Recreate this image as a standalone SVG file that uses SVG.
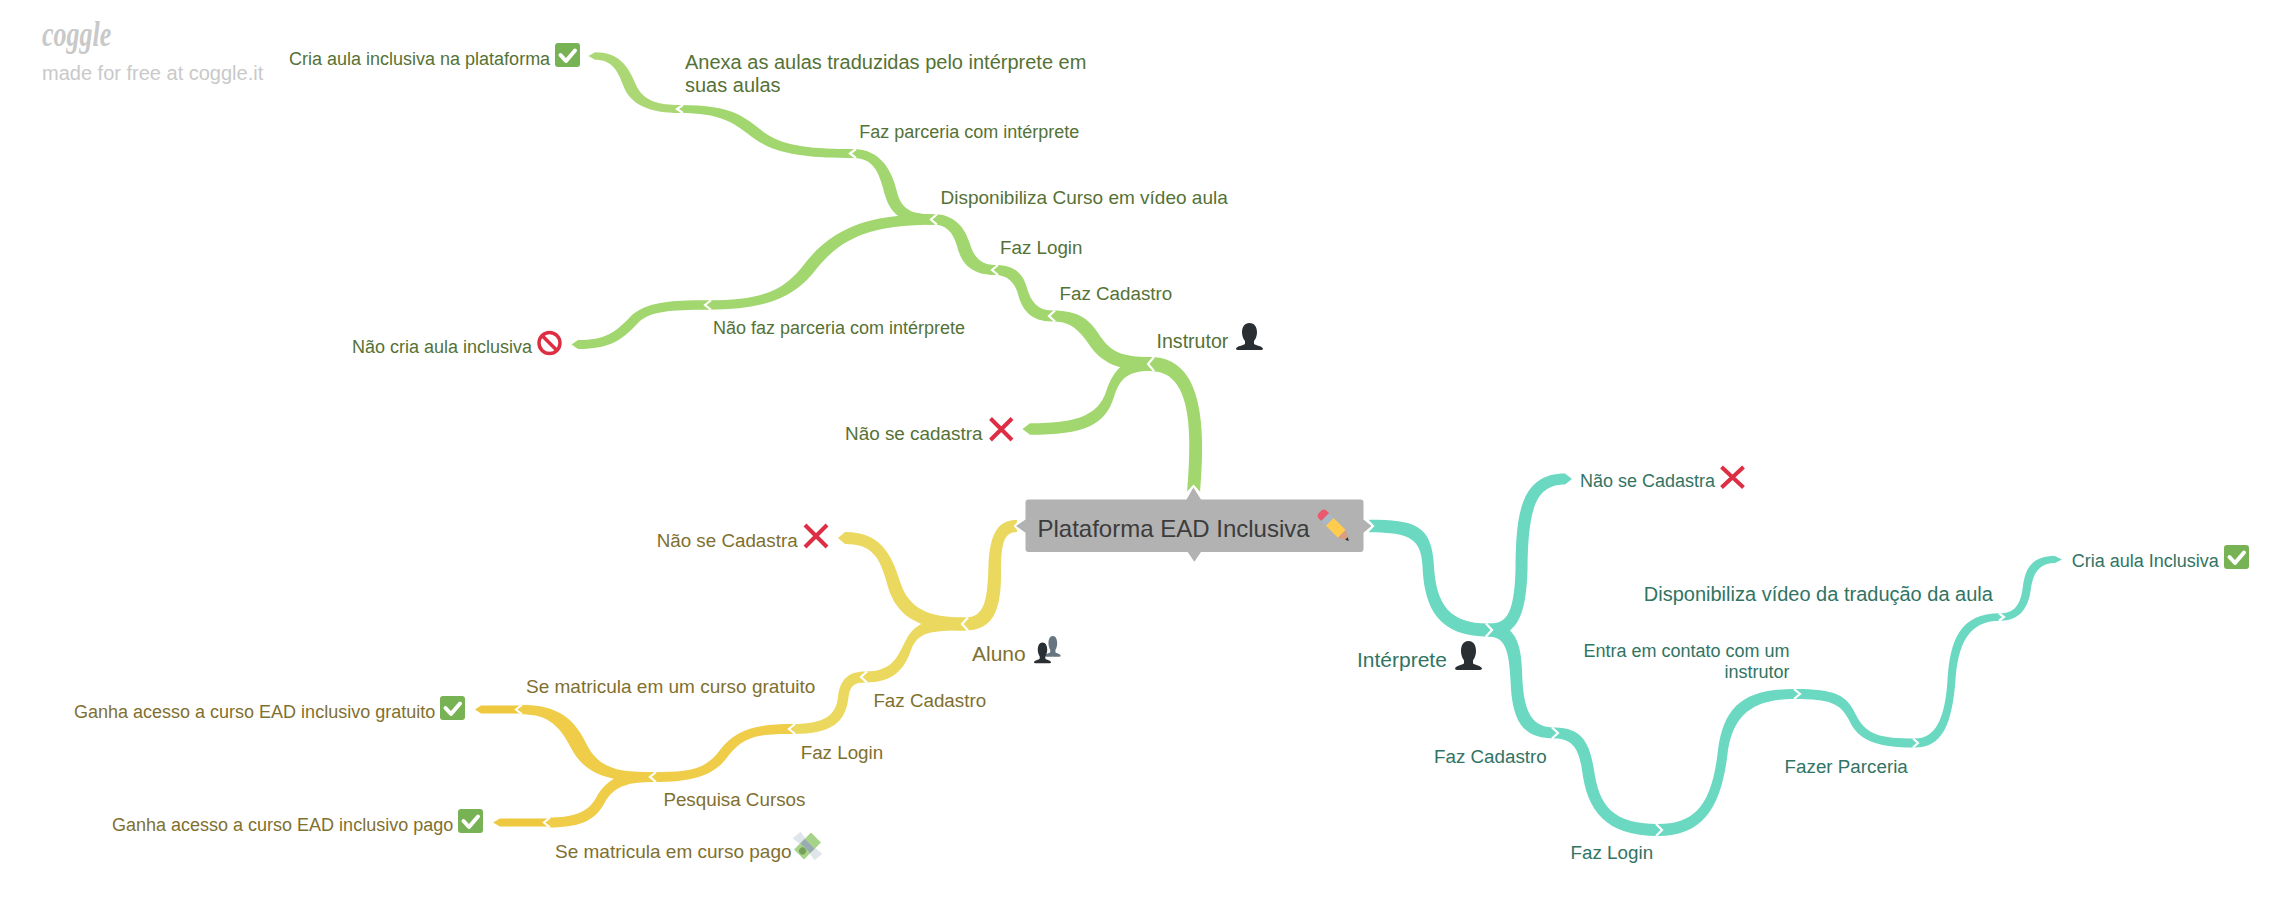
<svg xmlns="http://www.w3.org/2000/svg" width="2290" height="899" viewBox="0 0 2290 899">
<style>
text{font-family:"Liberation Sans",Arial,sans-serif}
.g{fill:#557236}.y{fill:#7f7030}.t{fill:#317463}
.s18{font-size:18px}.s19{font-size:18.8px}.s20{font-size:20px}.s21{font-size:21px}
.lg{fill:#a2d66e}.lg2{fill:#abd874}.ly{fill:#ebd85f}.ly2{fill:#efcd48}.ly3{fill:#eec93f}.lt{fill:#6bd8c1}
.chev{fill:none;stroke:#fff;stroke-width:2.2}
.x{fill:none;stroke:#dd2e44;stroke-width:4}
</style>
<defs>
<g id="check"><rect width="25" height="24" rx="3" fill="#77b255"/><path d="M5.500 12L11 18L20 7.500" fill="none" stroke="#fff" stroke-width="4" stroke-linecap="round" stroke-linejoin="round"/></g>
<path id="person" d="M13.500 0C18.500 0 21 4 21 9.500C21 13 19.500 16.500 18 18L18 21C20 22.500 26 23 27 25.500Q27 27 25 27L2 27Q0 27 0 25.500C1 23 7 22.500 9 21L9 18C7.500 16.500 6 13 6 9.500C6 4 8.500 0 13.500 0Z"/>
</defs>
<g id="brand">
<text transform="translate(42 46) scale(1 1.35)" font-size="26" font-style="italic" font-weight="bold" fill="#c9c9c9" style="font-family:'Liberation Serif',serif">coggle</text>
<text x="42" y="80" class="s20" fill="#c9c9c9">made for free at coggle.it</text>
</g>
<g id="connectors">
<path class="lg" d="M1200 495C1205.500 430 1205 357 1150 357L1150 371C1192 371 1192.500 430 1187 495Z"/>
<path class="lg" d="M1150 357C1122 357 1111 352 1100 336C1090 320 1080 310.500 1052 310.500L1052 321.500C1068 321.500 1077 327 1088 343C1098 358 1112 371 1150 371Z"/>
<path class="lg" d="M1150 357C1125 357 1113 370 1106 392C1098 414 1080 423.250 1030 423.250L1022.500 429L1030 434.750C1085 434.750 1105 425 1114 397C1120 378 1128 371 1150 371Z"/>
<path class="lg" d="M1052 310.500C1038 310.500 1031 302 1027 288C1023 273 1014 265 995 265L995 275C1008 275 1015 283 1018 294C1022 310 1031 321.500 1052 321.500Z"/>
<path class="lg" d="M995 265C982 265 974 258 970 244C965 228 955 214.250 934 214.250L934 224.750C946 224.750 953 232 957 246C961 262 970 275 995 275Z"/>
<path class="lg" d="M934 214.250C915 214.250 902 212 897 192C892 170 880 149 853 149L853 158C872 158 878 170 883 188C888 208 895 224.750 934 224.750Z"/>
<path class="lg" d="M853 149C815 149 785 147 765 133C745 118 735 105 680 105L680 113C720 113 733 122 752 137C775 155 810 158 853 158Z"/>
<path class="lg2" d="M680 105C660 105 644 102 636 85C628 65 618 52.250 595 52.250L588.500 56L595 59.750C610 59.750 617 68 623 85C630 105 650 113 680 113Z"/>
<path class="lg" d="M934 214.250C880 214.250 838 222 806 262C785 290 765 300.250 708 300.250L708 309.750C770 309.750 795 295 814 272C840 238 870 224.750 934 224.750Z"/>
<path class="lg" d="M708 300.250C670 300.250 645 302 630 317C615 333 605 340 578 340L571.500 344.500L578 349C610 349 622 340 638 323C650 311 670 309.750 708 309.750Z"/>
<path class="ly" d="M1017 520C1000 520 990 530 988.500 565C987.500 600 985 617.500 965 617.500L965 630.500C992 630.500 1001 612 1001 575C1001 545 1003 532 1017 532Z"/>
<path class="ly" d="M965 617.500C935 617.500 912 612 902 587C893 560 885 532 845 532L838 538L845 544C870 544 879 555 886 580C892 603 903 630.500 965 630.500Z"/>
<path class="ly" d="M965 617.500C935 617.500 916 620 906 640C897 658 892 671.500 865 671.500L865 682.500C893 682.500 904 670 911 650C918 632 930 630.500 965 630.500Z"/>
<path class="ly" d="M865 671.500C848 671.500 840 680 838 697C836 715 825 724 793 724L793 734C832 734 846 722 848.500 697C850 685 855 682.500 865 682.500Z"/>
<path class="ly2" d="M793 724C755 724 735 730 720 750C705 770 690 772 654 772L654 782C695 782 715 775 729 755C745 735 760 734 793 734Z"/>
<path class="ly2" d="M654 772C620 772 600 770 587 745C575 720 560 704.750 520 704.750L520 714.250C545 714.250 558 722 571 748C585 775 610 782 654 782Z"/>
<path class="ly3" d="M520 705.500L481 705.500L475 709.500L481 713.500L520 713.500Z"/>
<path class="ly2" d="M654 772C625 772 608 776 596 798C588 812 575 817.500 548 817.500L548 827.500C578 827.500 595 822 605 802C615 785 630 782 654 782Z"/>
<path class="ly3" d="M548 818.500L500 818.500L493 822.500L500 826.500L548 826.500Z"/>
<path class="lt" d="M1369 519.750C1415 519.750 1432 525 1434 566C1436 605 1450 623.500 1488 623.500L1488 636.500C1440 636.500 1424 610 1422.500 566C1421 540 1412 532.250 1369 532.250Z"/>
<path class="lt" d="M1488 623.500C1505 623.500 1514 618 1515.500 570C1516 520 1518 473.500 1565 473.500L1572 479L1565 484.500C1535 484.500 1528 510 1527.500 570C1526 620 1515 636.500 1488 636.500Z"/>
<path class="lt" d="M1488 623.500C1510 623.500 1521 635 1522 670C1523 710 1530 727.500 1555 727.500L1555 738.500C1525 738.500 1512 725 1510.500 680C1509 650 1505 636.500 1488 636.500Z"/>
<path class="lt" d="M1555 727.500C1583 727.500 1590 745 1594 770C1599 805 1612 824 1658 824L1658 836C1605 836 1587 810 1582 770C1579 750 1573 738.500 1555 738.500Z"/>
<path class="lt" d="M1658 824C1695 824 1712 805 1718 750C1724 705 1745 689 1795 689L1795 699C1752 699 1734 715 1728 750C1722 805 1705 836 1658 836Z"/>
<path class="lt" d="M1795 689C1835 689 1847 695 1856 715C1866 735 1880 738.500 1915 738.500L1915 747.500C1875 747.500 1858 740 1849 720C1840 703 1830 699 1795 699Z"/>
<path class="lt" d="M1915 738.500C1935 738.500 1945 720 1947.500 680C1950 640 1960 613.250 2000 613.250L2000 620.750C1968 620.750 1958 645 1955.500 680C1952 725 1942 747.500 1915 747.500Z"/>
<path class="lt" d="M2000 613.250C2012 613.250 2020 608 2022.700 588C2025 568 2032 556 2055 556L2062 559.500L2055 563C2040 563 2033 572 2030.700 590C2028 610 2018 620.750 2000 620.750Z"/>
<path class="chev" d="M1154 357L1148 364L1154 371M1055 310.500L1049 316L1055 321.500M998 265L992 270L998 275M937 214.250L931 219.500L937 224.750M856 149L850 153.500L856 158M683 105L677 109L683 113M711 300.250L705 305L711 309.750M968 617.500L962 624L968 630.500M867 671.500L861 677L867 682.500M795 724L789 729L795 734M656 772L650 777L656 782M522 704.750L516 709.500L522 714.250M550 817.500L544 822.500L550 827.500M1486 623.500L1492 630L1486 636.500M1552 727.500L1558 733L1552 738.500M1656 824L1662 830L1656 836M1794 689L1800 694L1794 699M1913 738.500L1918 743L1913 747.500M1999 613.250L2004 617L1999 620.750"/>
</g>
<g id="root">
<path d="M1193.500 484.500L1204 496L1204 500L1183 500L1183 496ZM1013.500 526L1025 514L1030 514L1030 538L1025 538ZM1374.500 526L1363 514L1358 514L1358 538L1363 538Z" fill="#fff"/>
<path d="M1028.500 499.500H1360.500Q1363.500 499.500 1363.500 502.500V519.500L1371.500 526L1363.500 532.700V549Q1363.500 552 1360.500 552H1201L1194.300 561.700L1187.700 552H1028.500Q1025.500 552 1025.500 549V532.700L1016 526L1025.500 519.500V502.500Q1025.500 499.500 1028.500 499.500H1186.500L1193.400 487.500L1201 499.500Z" fill="#b2b2b2"/>
<text x="1037.500" y="537" font-size="24" fill="#3c3c3c">Plataforma EAD Inclusiva</text>
<g transform="translate(1333 525) rotate(45)">
<path d="M-15 -5.500H-11V5.500H-15Q-18.500 5.500 -18.500 0Q-18.500 -5.500 -15 -5.500Z" fill="#ea596e"/>
<rect x="-11" y="-5.500" width="6.500" height="11" fill="#a9b8c6"/>
<rect x="-4.500" y="-5.500" width="17" height="11" fill="#ffcc4d"/>
<path d="M12.500 -5.500L22 0L12.500 5.500Z" fill="#d99e82"/>
<path d="M19 -1.700L22.500 0L19 1.700Z" fill="#292f33"/>
</g>
</g>
<g id="n-instrutor"><text x="1156.500" y="347.500" class="g" style="font-size:19.6px">Instrutor</text><use href="#person" transform="translate(1236 323)" fill="#292f33"/></g>
<g id="n-faz-cadastro-g"><text x="1059.500" y="299.500" class="g s19">Faz Cadastro</text></g>
<g id="n-faz-login-g"><text x="1000" y="253.500" class="g s19">Faz Login</text></g>
<g id="n-disponibiliza"><text x="940.500" y="204" class="g" style="font-size:19px">Disponibiliza Curso em vídeo aula</text></g>
<g id="n-faz-parceria"><text x="859.300" y="137.500" class="g s18">Faz parceria com intérprete</text></g>
<g id="n-anexa"><text x="685" y="69" class="g s20">Anexa as aulas traduzidas pelo intérprete em</text><text x="685" y="91.700" class="g s20">suas aulas</text></g>
<g id="n-cria-plataforma"><text x="289" y="64.500" class="g s18">Cria aula inclusiva na plataforma</text><use href="#check" x="555" y="43"/></g>
<g id="n-nao-faz"><text x="713" y="333.500" class="g s18">Não faz parceria com intérprete</text></g>
<g id="n-nao-cria"><text x="352" y="353" class="g s18">Não cria aula inclusiva</text><circle cx="549.500" cy="343" r="10.500" fill="none" stroke="#dd2e44" stroke-width="3.500"/><path d="M542 335.500L557 350.500" fill="none" stroke="#dd2e44" stroke-width="3.500"/></g>
<g id="n-nao-cadastra-g"><text x="845" y="440" class="g" style="font-size:18.9px">Não se cadastra</text><path class="x" d="M990.500 418.500L1012 440M1012 418.500L990.500 440"/></g>
<g id="n-aluno"><text x="972" y="661" class="y s21">Aluno</text><use href="#person" transform="translate(1045 636) scale(.58 .77)" fill="#66757f"/><use href="#person" transform="translate(1034 642.500) scale(.63 .77)" fill="#292f33"/></g>
<g id="n-nao-cadastra-y"><text x="656.700" y="547" class="y s19">Não se Cadastra</text><path class="x" d="M805 525L827 547M827 525L805 547"/></g>
<g id="n-faz-cadastro-y"><text x="873.400" y="707" class="y s19">Faz Cadastro</text></g>
<g id="n-faz-login-y"><text x="800.700" y="759" class="y s19">Faz Login</text></g>
<g id="n-pesquisa"><text x="663.400" y="806" class="y s19">Pesquisa Cursos</text></g>
<g id="n-gratuito"><text x="526" y="692.500" class="y" style="font-size:19px">Se matricula em um curso gratuito</text></g>
<g id="n-pago"><text x="555" y="858" class="y" style="font-size:19px">Se matricula em curso pago</text>
<g transform="translate(807.500 846) rotate(-45)"><path d="M-4 -7L4 -7L5 -15L-5 -16ZM-4 7L4 7L5 16L-5 15Z" fill="#dfe6eb"/><rect x="-12" y="-7" width="24" height="14" fill="#a6d388"/><rect x="-3" y="-7" width="6" height="14" fill="#99aab5"/><circle cx="-7" cy="0" r="3.500" fill="#77a05c"/></g></g>
<g id="n-ganha-gratuito"><text x="74" y="718" class="y s18">Ganha acesso a curso EAD inclusivo gratuito</text><use href="#check" x="440" y="696"/></g>
<g id="n-ganha-pago"><text x="112" y="830.500" class="y s18">Ganha acesso a curso EAD inclusivo pago</text><use href="#check" x="458" y="809"/></g>
<g id="n-interprete"><text x="1357" y="666.700" class="t s21">Intérprete</text><use href="#person" transform="translate(1455 641) scale(1 1.07)" fill="#292f33"/></g>
<g id="n-nao-cadastra-t"><text x="1580" y="486.500" class="t s18">Não se Cadastra</text><path class="x" d="M1721.500 467L1743.500 487.500M1743.500 467L1721.500 487.500"/></g>
<g id="n-faz-cadastro-t"><text x="1434" y="763" class="t s19">Faz Cadastro</text></g>
<g id="n-faz-login-t"><text x="1570.600" y="859" class="t s19">Faz Login</text></g>
<g id="n-entra"><text x="1789.500" y="657" class="t s18" text-anchor="end">Entra em contato com um</text><text x="1789.500" y="678" class="t s18" text-anchor="end">instrutor</text></g>
<g id="n-fazer-parceria"><text x="1784.600" y="773" class="t s19">Fazer Parceria</text></g>
<g id="n-disponibiliza-t"><text x="1643.800" y="601" class="t s20">Disponibiliza vídeo da tradução da aula</text></g>
<g id="n-cria-inclusiva"><text x="2071.800" y="566.500" class="t s18">Cria aula Inclusiva</text><use href="#check" x="2224" y="545"/></g>
</svg>
